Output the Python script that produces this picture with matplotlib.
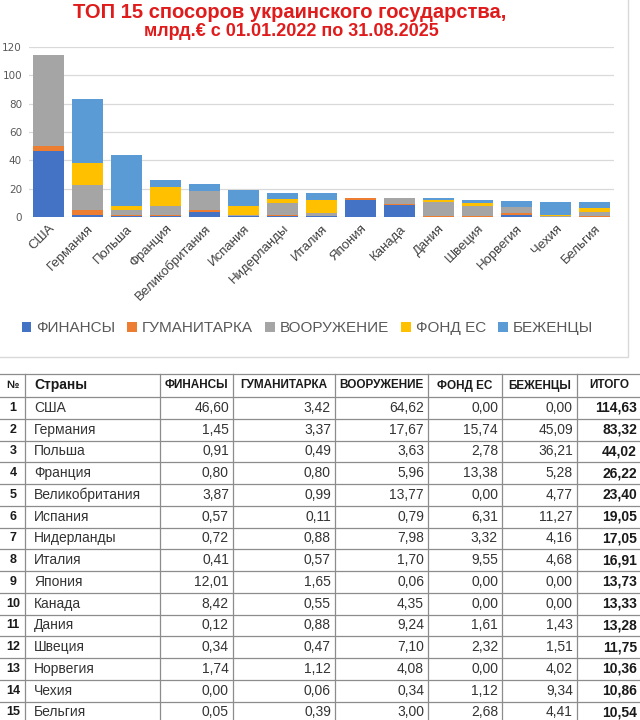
import matplotlib
matplotlib.use("Agg")
import matplotlib.pyplot as plt
import numpy as np
from matplotlib.patches import Rectangle, Patch

countries = ["США", "Германия", "Польша", "Франция", "Великобритания", "Испания",
             "Нидерланды", "Италия", "Япония", "Канада", "Дания", "Швеция",
             "Норвегия", "Чехия", "Бельгия"]
series_names = ["ФИНАНСЫ", "ГУМАНИТАРКА", "ВООРУЖЕНИЕ", "ФОНД ЕС", "БЕЖЕНЦЫ"]
finance = [46.60, 1.45, 0.91, 0.80, 3.87, 0.57, 0.72, 0.41, 12.01, 8.42, 0.12, 0.34, 1.74, 0.00, 0.05]
humanit = [3.42, 3.37, 0.49, 0.80, 0.99, 0.11, 0.88, 0.57, 1.65, 0.55, 0.88, 0.47, 1.12, 0.06, 0.39]
weapons = [64.62, 17.67, 3.63, 5.96, 13.77, 0.79, 7.98, 1.70, 0.06, 4.35, 9.24, 7.10, 4.08, 0.34, 3.00]
eu_fund = [0.00, 15.74, 2.78, 13.38, 0.00, 6.31, 3.32, 9.55, 0.00, 0.00, 1.61, 2.32, 0.00, 1.12, 2.68]
refugees = [0.00, 45.09, 36.21, 5.28, 4.77, 11.27, 4.16, 4.68, 0.00, 0.00, 1.43, 1.51, 4.02, 9.34, 4.41]
totals = [114.63, 83.32, 44.02, 26.22, 23.40, 19.05, 17.05, 16.91, 13.73, 13.33, 13.28, 11.75, 10.36, 10.86, 10.54]
y_ticks = [0, 20, 40, 60, 80, 100, 120]

colors = ["#4472C4", "#ED7D31", "#A5A5A5", "#FFC000", "#5B9BD5"]
series = [finance, humanit, weapons, eu_fund, refugees]

W, H = 640, 720
fig = plt.figure(figsize=(6.4, 7.2), dpi=100)

bg = fig.add_axes([0, 0, 1, 1])
bg.set_xlim(0, W)
bg.set_ylim(H, 0)
bg.axis("off")

bg.add_patch(Rectangle((-2, -2), 630, 359, fill=False, edgecolor="#D9D9D9", lw=1))

bg.text(290, 12, "ТОП 15 спосоров украинского государства,", ha="center", va="center",
        color="#E01B1B", fontsize=14.5, fontweight="bold", family=["Liberation Sans", "DejaVu Sans"])
bg.text(291, 32, "млрд.€ с 01.01.2022 по 31.08.2025", ha="center", va="center",
        color="#E01B1B", fontsize=13, fontweight="bold", family=["Liberation Sans", "DejaVu Sans"])

ax = fig.add_axes([29 / W, 1 - 217 / H, 585 / W, 170 / H])
x = np.arange(len(countries))
bottom = np.zeros(len(countries))
for name, vals, c in zip(series_names, series, colors):
    ax.bar(x, vals, bottom=bottom, width=0.8, color=c, label=name, zorder=3)
    bottom += np.array(vals)
ax.set_xlim(-0.5, len(countries) - 0.5)
ax.set_ylim(0, 120)
ax.set_yticks(y_ticks)
ax.grid(axis="y", color="#D9D9D9", lw=0.9, zorder=0)
for s in ax.spines.values():
    s.set_visible(False)
ax.tick_params(axis="y", length=0, pad=5, labelsize=7.5, labelcolor="#595959")
ax.tick_params(axis="x", length=0, pad=4)
ax.set_xticks(x)
ax.set_xticklabels(countries, rotation=45, ha="right", rotation_mode="anchor",
                   fontsize=9.5, color="#404040", family=["Liberation Sans", "DejaVu Sans"])
ax.set_facecolor("none")

handles = [Patch(facecolor=c, label=n) for n, c in zip(series_names, colors)]
leg = fig.legend(handles=handles, loc="center", bbox_to_anchor=(0.48, 1 - 328 / H), ncol=5,
                 frameon=False, handlelength=0.65, handleheight=0.65, handletextpad=0.3,
                 columnspacing=0.8, prop={"family": ["Liberation Sans", "DejaVu Sans"], "size": 11})
for t in leg.get_texts():
    t.set_color("#595959")

tfont = ["Liberation Sans Narrow", "Liberation Sans", "DejaVu Sans"]
col_edges = [0, 25, 160, 233, 335, 428, 502, 577, 642]
top = 374
head_bot = 397
row_h = 21.75
n = len(countries)
line_c = "#8C8C8C"
ys = [top, head_bot] + [head_bot + row_h * (i + 1) for i in range(n)]
for yy in ys:
    bg.plot([0, W], [yy, yy], color=line_c, lw=0.9)
for xx in col_edges[1:-1]:
    bg.plot([xx, xx], [top, H + 5], color=line_c, lw=0.9)

headers = ["№", "Страны"] + series_names + ["ИТОГО"]
hy = (top + head_bot) / 2
for j, h in enumerate(headers):
    if j == 1:
        bg.text(col_edges[1] + 9, hy, h, ha="left", va="center", fontsize=10, fontweight="bold",
                color="#1A1A1A", family=tfont)
    else:
        bg.text((col_edges[j] + col_edges[j + 1]) / 2, hy, h, ha="center", va="center",
                fontsize=8.5 if j > 1 else 8, fontweight="bold", color="#1A1A1A", family=tfont)

def fmt(v):
    return f"{v:.2f}".replace(".", ",")

for i in range(n):
    cy = head_bot + row_h * i + row_h / 2
    bg.text(13, cy, str(i + 1), ha="center", va="center", fontsize=9,
            fontweight="bold", color="#1A1A1A", family=tfont)
    bg.text(col_edges[1] + 9, cy, countries[i], ha="left", va="center", fontsize=10,
            color="#333333", family=tfont)
    vals = [s[i] for s in series]
    for j, v in enumerate(vals):
        bg.text(col_edges[j + 3] - 4, cy, fmt(v), ha="right", va="center", fontsize=10,
                color="#333333", family=tfont)
    bg.text(W - 3, cy, fmt(totals[i]), ha="right", va="center", fontsize=10,
            fontweight="bold", color="#1A1A1A", family=tfont)

fig.savefig("out.png", dpi=100)
